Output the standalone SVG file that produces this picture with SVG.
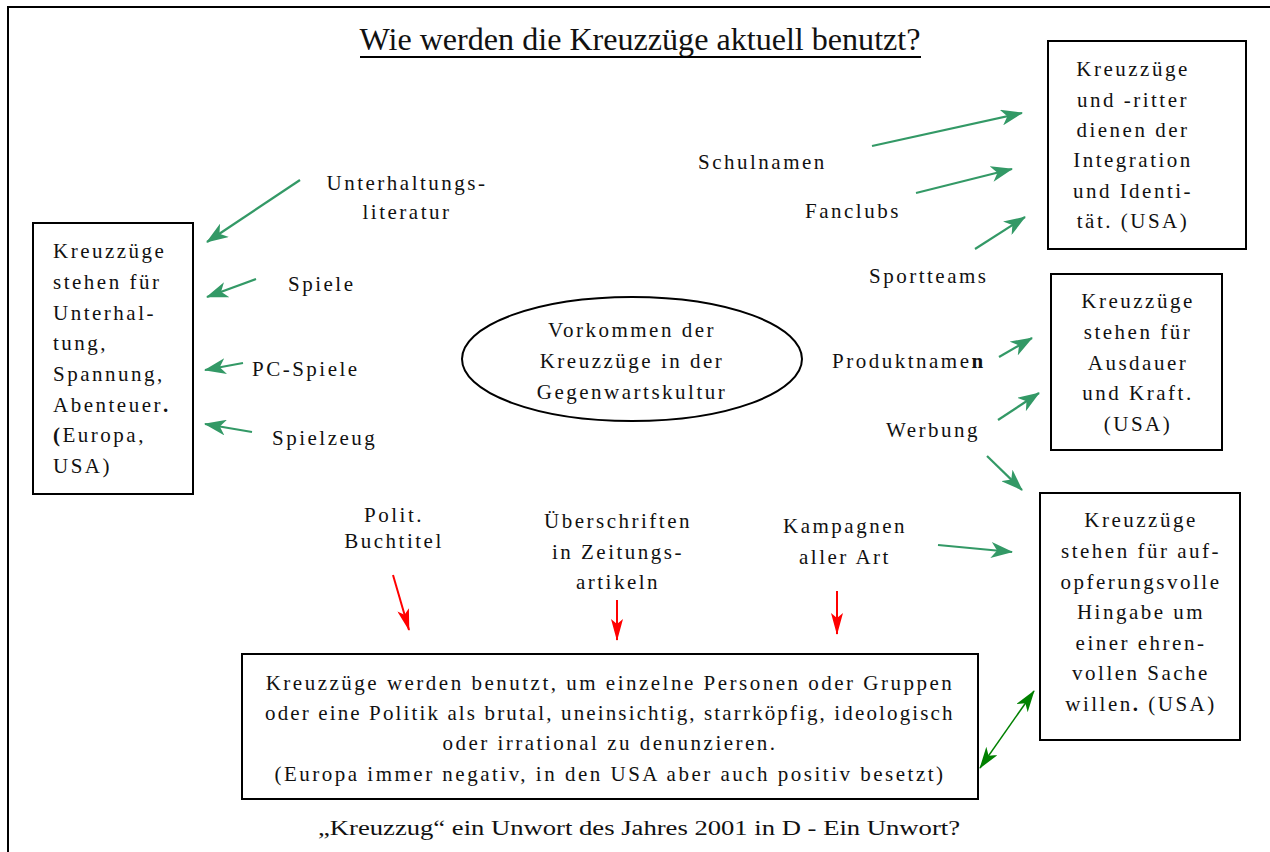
<svg xmlns="http://www.w3.org/2000/svg" width="1270" height="852" viewBox="0 0 1270 852">
<style>
text{font-family:"Liberation Serif","Times New Roman",serif;fill:#111;}
.t{font-size:21px;letter-spacing:2.5px;}
.c{text-anchor:middle;}
.box{fill:#fff;stroke:#000;stroke-width:2;}
.g{stroke:#339966;stroke-width:2.2;fill:none;marker-end:url(#ag);}
.r{stroke:#ff0000;stroke-width:2;fill:none;marker-end:url(#ar);}
.d{stroke:#008000;stroke-width:1.5;fill:none;marker-end:url(#ad);marker-start:url(#ad);}
.b{font-weight:bold;}
</style>
<defs>
<marker id="ag" viewBox="0 0 22 16" refX="21" refY="8" markerWidth="22" markerHeight="16" markerUnits="userSpaceOnUse" orient="auto">
<path d="M0,0 L22,8 L0,16 L6,8 Z" fill="#339966"/>
</marker>
<marker id="ar" viewBox="0 0 22 12" refX="21" refY="6" markerWidth="22" markerHeight="12" markerUnits="userSpaceOnUse" orient="auto">
<path d="M0,0 L22,6 L0,12 L5,6 Z" fill="#ff0000"/>
</marker>
<marker id="ad" viewBox="0 0 22 14" refX="21" refY="7" markerWidth="22" markerHeight="14" markerUnits="userSpaceOnUse" orient="auto-start-reverse">
<path d="M0,0 L22,7 L0,14 L6,7 Z" fill="#008000"/>
</marker>
</defs>
<rect width="1270" height="852" fill="#fff"/>
<g id="frame">
<path d="M7,7 H1270 M8,7 V852" stroke="#000" stroke-width="2" fill="none"/>
</g>
<g id="title">
<text x="640" y="50" class="c" font-size="31" textLength="561" lengthAdjust="spacingAndGlyphs">Wie werden die Kreuzzüge aktuell benutzt?</text>
<line x1="360" y1="57" x2="921" y2="57" stroke="#000" stroke-width="2"/>
</g>
<g id="connectors">
<line class="g" x1="300" y1="180" x2="207" y2="242"/>
<line class="g" x1="256" y1="279" x2="207" y2="297"/>
<line class="g" x1="243" y1="363" x2="205" y2="370"/>
<line class="g" x1="252" y1="432" x2="205" y2="424"/>
<line class="g" x1="872" y1="146" x2="1022" y2="113"/>
<line class="g" x1="916" y1="193" x2="1012" y2="169"/>
<line class="g" x1="975" y1="249" x2="1025" y2="217"/>
<line class="g" x1="999" y1="357" x2="1032" y2="338"/>
<line class="g" x1="998" y1="420" x2="1039" y2="393"/>
<line class="g" x1="987" y1="456" x2="1022" y2="490"/>
<line class="g" x1="938" y1="545" x2="1012" y2="552"/>
<line class="r" x1="393" y1="575" x2="409" y2="630"/>
<line class="r" x1="617" y1="600" x2="617" y2="640"/>
<line class="r" x1="837" y1="591" x2="837" y2="634"/>
<line class="d" x1="980" y1="768" x2="1034" y2="691"/>
</g>
<g id="box-left">
<rect class="box" x="33" y="223" width="160" height="271"/>
<text class="t" x="53" y="258">Kreuzzüge</text>
<text class="t" x="53" y="289">stehen für</text>
<text class="t" x="53" y="320">Unterhal-</text>
<text class="t" x="53" y="350">tung,</text>
<text class="t" x="53" y="381">Spannung,</text>
<text class="t" x="53" y="412">Abenteuer<tspan class="b">.</tspan></text>
<text class="t" x="53" y="442"><tspan class="b">(</tspan>Europa,</text>
<text class="t" x="53" y="473">USA)</text>
</g>
<g id="box-right-top">
<rect class="box" x="1048" y="41" width="198" height="208"/>
<text class="t c" x="1133" y="76">Kreuzzüge</text>
<text class="t c" x="1133" y="107">und -ritter</text>
<text class="t c" x="1133" y="137">dienen der</text>
<text class="t c" x="1133" y="167">Integration</text>
<text class="t c" x="1133" y="198">und Identi-</text>
<text class="t c" x="1133" y="228">tät. (USA)</text>
</g>
<g id="box-right-mid">
<rect class="box" x="1051" y="274" width="171" height="176"/>
<text class="t c" x="1138" y="308">Kreuzzüge</text>
<text class="t c" x="1138" y="339">stehen für</text>
<text class="t c" x="1138" y="370">Ausdauer</text>
<text class="t c" x="1138" y="400">und Kraft.</text>
<text class="t c" x="1138" y="431">(USA)</text>
</g>
<g id="box-right-bottom">
<rect class="box" x="1040" y="493" width="200" height="247"/>
<text class="t c" x="1141" y="527">Kreuzzüge</text>
<text class="t c" x="1141" y="558">stehen für auf-</text>
<text class="t c" x="1141" y="589">opferungsvolle</text>
<text class="t c" x="1141" y="619">Hingabe um</text>
<text class="t c" x="1141" y="650">einer ehren-</text>
<text class="t c" x="1141" y="680">vollen Sache</text>
<text class="t c" x="1141" y="711">willen<tspan class="b">.</tspan> (USA)</text>
</g>
<g id="box-bottom">
<rect class="box" x="242" y="654" width="736" height="145"/>
<text class="t c" x="610" y="690">Kreuzzüge werden benutzt, um einzelne Personen oder Gruppen</text>
<text class="t c" x="610" y="720" textLength="690" lengthAdjust="spacing">oder eine Politik als brutal, uneinsichtig, starrköpfig, ideologisch</text>
<text class="t c" x="610" y="750">oder irrational zu denunzieren.</text>
<text class="t c" x="610" y="781">(Europa immer negativ, in den USA aber auch positiv besetzt)</text>
</g>
<g id="center">
<ellipse cx="632" cy="359" rx="170" ry="62" fill="#fff" stroke="#000" stroke-width="2"/>
<text class="t c" x="632" y="337">Vorkommen der</text>
<text class="t c" x="632" y="368">Kreuzzüge in der</text>
<text class="t c" x="632" y="399">Gegenwartskultur</text>
</g>
<g id="labels">
<text class="t c" x="407" y="190">Unterhaltungs-</text>
<text class="t c" x="407" y="219">literatur</text>
<text class="t" x="288" y="291">Spiele</text>
<text class="t" x="252" y="376">PC-Spiele</text>
<text class="t" x="272" y="445">Spielzeug</text>
<text class="t c" x="394" y="522">Polit.</text>
<text class="t c" x="394" y="548">Buchtitel</text>
<text class="t c" x="618" y="528">Überschriften</text>
<text class="t c" x="618" y="559">in Zeitungs-</text>
<text class="t c" x="618" y="589">artikeln</text>
<text class="t c" x="845" y="533">Kampagnen</text>
<text class="t c" x="845" y="564">aller Art</text>
<text class="t" x="698" y="169">Schulnamen</text>
<text class="t" x="805" y="218">Fanclubs</text>
<text class="t" x="869" y="283">Sportteams</text>
<text class="t" x="832" y="368">Produktname<tspan class="b">n</tspan></text>
<text class="t" x="886" y="437">Werbung</text>
</g>
<g id="caption">
<text x="639" y="835" class="c" font-size="20" textLength="642" lengthAdjust="spacingAndGlyphs">„Kreuzzug“ ein Unwort des Jahres 2001 in D - Ein Unwort?</text>
</g>
</svg>
